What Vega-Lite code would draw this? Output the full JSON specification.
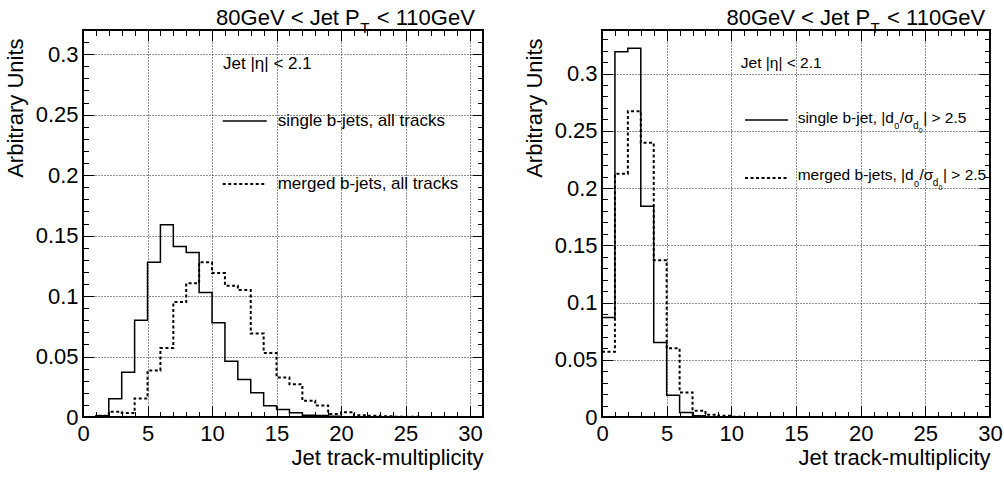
{
  "$schema": "https://vega.github.io/schema/vega-lite/v6.json",
  "padding": {"left": 3, "top": 5, "right": 5, "bottom": 5},
  "background": "white",
  "datasets": {
    "left": [
      {"s": "single", "x": 0, "y": 0}, {"s": "single", "x": 1, "y": 0.001}, {"s": "single", "x": 2, "y": 0.015},
      {"s": "single", "x": 3, "y": 0.037}, {"s": "single", "x": 4, "y": 0.080}, {"s": "single", "x": 5, "y": 0.128},
      {"s": "single", "x": 6, "y": 0.159}, {"s": "single", "x": 7, "y": 0.141}, {"s": "single", "x": 8, "y": 0.136},
      {"s": "single", "x": 9, "y": 0.103}, {"s": "single", "x": 10, "y": 0.078}, {"s": "single", "x": 11, "y": 0.046},
      {"s": "single", "x": 12, "y": 0.031}, {"s": "single", "x": 13, "y": 0.020}, {"s": "single", "x": 14, "y": 0.0093},
      {"s": "single", "x": 15, "y": 0.0063}, {"s": "single", "x": 16, "y": 0.0036}, {"s": "single", "x": 17, "y": 0.0014},
      {"s": "single", "x": 18, "y": 0.0012}, {"s": "single", "x": 19, "y": 0.0006}, {"s": "single", "x": 20, "y": 0.0003},
      {"s": "single", "x": 21, "y": 0.0002}, {"s": "single", "x": 22, "y": 0}, {"s": "single", "x": 30, "y": 0},
      {"s": "merged", "x": 0, "y": 0}, {"s": "merged", "x": 1, "y": 0.001}, {"s": "merged", "x": 2, "y": 0.0044},
      {"s": "merged", "x": 3, "y": 0.0033}, {"s": "merged", "x": 4, "y": 0.0154}, {"s": "merged", "x": 5, "y": 0.0385},
      {"s": "merged", "x": 6, "y": 0.057}, {"s": "merged", "x": 7, "y": 0.095}, {"s": "merged", "x": 8, "y": 0.1106},
      {"s": "merged", "x": 9, "y": 0.128}, {"s": "merged", "x": 10, "y": 0.119}, {"s": "merged", "x": 11, "y": 0.1086},
      {"s": "merged", "x": 12, "y": 0.105}, {"s": "merged", "x": 13, "y": 0.069}, {"s": "merged", "x": 14, "y": 0.053},
      {"s": "merged", "x": 15, "y": 0.0327}, {"s": "merged", "x": 16, "y": 0.027}, {"s": "merged", "x": 17, "y": 0.0135},
      {"s": "merged", "x": 18, "y": 0.0096}, {"s": "merged", "x": 19, "y": 0.0025}, {"s": "merged", "x": 20, "y": 0.004},
      {"s": "merged", "x": 21, "y": 0.0014}, {"s": "merged", "x": 22, "y": 0.001}, {"s": "merged", "x": 23, "y": 0.0007},
      {"s": "merged", "x": 24, "y": 0.0003}, {"s": "merged", "x": 25, "y": 0.0002}, {"s": "merged", "x": 26, "y": 0},
      {"s": "merged", "x": 30, "y": 0}
    ],
    "right": [
      {"s": "single", "x": 0, "y": 0.087}, {"s": "single", "x": 1, "y": 0.319}, {"s": "single", "x": 2, "y": 0.322},
      {"s": "single", "x": 3, "y": 0.184}, {"s": "single", "x": 4, "y": 0.065}, {"s": "single", "x": 5, "y": 0.019},
      {"s": "single", "x": 6, "y": 0.004}, {"s": "single", "x": 7, "y": 0.001}, {"s": "single", "x": 8, "y": 0.0003},
      {"s": "single", "x": 9, "y": 0}, {"s": "single", "x": 30, "y": 0},
      {"s": "merged", "x": 0, "y": 0.057}, {"s": "merged", "x": 1, "y": 0.2125}, {"s": "merged", "x": 2, "y": 0.267},
      {"s": "merged", "x": 3, "y": 0.2395}, {"s": "merged", "x": 4, "y": 0.137}, {"s": "merged", "x": 5, "y": 0.060},
      {"s": "merged", "x": 6, "y": 0.0215}, {"s": "merged", "x": 7, "y": 0.0055}, {"s": "merged", "x": 8, "y": 0.002},
      {"s": "merged", "x": 9, "y": 0.001}, {"s": "merged", "x": 10, "y": 0.0003}, {"s": "merged", "x": 11, "y": 0},
      {"s": "merged", "x": 30, "y": 0}
    ]
  },
  "spacing": 119,
  "bounds": "flush",
  "hconcat": [
    {
      "width": 400,
      "height": 387,
      "resolve": {"axis": {"x": "independent", "y": "independent"}},
      "layer": [
        {
          "data": {"name": "left"},
          "transform": [{"filter": "datum.s === 'single'"}],
          "mark": {"type": "line", "interpolate": "step-after", "color": "black", "strokeWidth": 1.5},
          "encoding": {
            "x": {"field": "x", "type": "quantitative", "scale": {"domain": [0, 31], "nice": false, "zero": false},
              "axis": {"orient": "bottom", "values": [0,1,2,3,4,5,6,7,8,9,10,11,12,13,14,15,16,17,18,19,20,21,22,23,24,25,26,27,28,29,30,31],
                "tickDash": {"condition": {"test": "datum.value % 5 === 0", "value": [12, 1]}, "value": [5.5, 30]},
                "labelExpr": "datum.value % 5 === 0 ? datum.label : ''", "labelPadding": 17,
                "grid": true, "gridOpacity": {"condition": {"test": "datum.value % 5 === 0", "value": 1}, "value": 0},
                "title": "Jet track-multiplicity", "titleAnchor": "end", "titleAlign": "right", "titleBaseline": "alphabetic", "titleY": 47}},
            "y": {"field": "y", "type": "quantitative", "scale": {"domain": [0, 0.32], "nice": false},
              "axis": {"orient": "left", "values": [0,0.01,0.02,0.03,0.04,0.05,0.06,0.07,0.08,0.09,0.1,0.11,0.12,0.13,0.14,0.15,0.16,0.17,0.18,0.19,0.2,0.21,0.22,0.23,0.24,0.25,0.26,0.27,0.28,0.29,0.3,0.31,0.32],
                "tickDash": {"condition": {"test": "round(datum.value*100) % 5 === 0", "value": [12, 1]}, "value": [5.5, 30]},
                "labelExpr": "round(datum.value*100) % 5 === 0 ? format(datum.value, '~g') : ''", "labelPadding": 16,
                "grid": true, "gridOpacity": {"condition": {"test": "round(datum.value*100) % 5 === 0", "value": 1}, "value": 0},
                "title": "Arbitrary Units", "titleAngle": 270, "titleAnchor": "end", "titleAlign": "right", "titleBaseline": "alphabetic", "titleX": -61, "titleY": 8}}
          }
        },
        {
          "data": {"name": "left"},
          "transform": [{"filter": "datum.s === 'merged'"}],
          "mark": {"type": "line", "interpolate": "step-after", "color": "black", "strokeWidth": 2, "strokeDash": [3, 2.5]},
          "encoding": {
            "x": {"field": "x", "type": "quantitative", "scale": {"domain": [0, 31], "nice": false, "zero": false},
              "axis": {"orient": "top", "values": [0,1,2,3,4,5,6,7,8,9,10,11,12,13,14,15,16,17,18,19,20,21,22,23,24,25,26,27,28,29,30,31],
                "tickDash": {"condition": {"test": "datum.value % 5 === 0", "value": [12, 1]}, "value": [5.5, 30]},
                "labels": false, "grid": false, "title": null}},
            "y": {"field": "y", "type": "quantitative", "scale": {"domain": [0, 0.32], "nice": false},
              "axis": {"orient": "right", "values": [0,0.01,0.02,0.03,0.04,0.05,0.06,0.07,0.08,0.09,0.1,0.11,0.12,0.13,0.14,0.15,0.16,0.17,0.18,0.19,0.2,0.21,0.22,0.23,0.24,0.25,0.26,0.27,0.28,0.29,0.3,0.31,0.32],
                "tickDash": {"condition": {"test": "round(datum.value*100) % 5 === 0", "value": [12, 1]}, "value": [5.5, 30]},
                "labels": false, "grid": false, "title": null}}
          }
        },
        {
          "data": {"values": [{}]},
          "mark": {"type": "rule", "color": "black", "strokeWidth": 1.5},
          "encoding": {"x": {"datum": 10.83, "type": "quantitative", "axis": null}, "x2": {"datum": 14.24}, "y": {"datum": 0.2448, "type": "quantitative", "axis": null}}
        },
        {
          "data": {"values": [{}]},
          "mark": {"type": "rule", "color": "black", "strokeWidth": 2, "strokeDash": [3, 2.5]},
          "encoding": {"x": {"datum": 10.83, "type": "quantitative", "axis": null}, "x2": {"datum": 14.24}, "y": {"datum": 0.1927, "type": "quantitative", "axis": null}}
        },
        {
          "data": {"values": [{}]},
          "mark": {"type": "text", "text": "Jet |η| < 2.1", "align": "left", "baseline": "middle", "fontSize": 17, "color": "black"},
          "encoding": {"x": {"datum": 10.85, "type": "quantitative", "axis": null}, "y": {"datum": 0.292, "type": "quantitative", "axis": null}}
        },
        {
          "data": {"values": [{}]},
          "mark": {"type": "text", "text": "single b-jets, all tracks", "align": "left", "baseline": "middle", "fontSize": 17, "color": "black"},
          "encoding": {"x": {"datum": 15.09, "type": "quantitative", "axis": null}, "y": {"datum": 0.2448, "type": "quantitative", "axis": null}}
        },
        {
          "data": {"values": [{}]},
          "mark": {"type": "text", "text": "merged b-jets, all tracks", "align": "left", "baseline": "middle", "fontSize": 17, "color": "black"},
          "encoding": {"x": {"datum": 15.09, "type": "quantitative", "axis": null}, "y": {"datum": 0.1927, "type": "quantitative", "axis": null}}
        },
        {
          "data": {"values": [{}]},
          "mark": {"type": "text", "text": "80GeV < Jet P", "align": "right", "baseline": "alphabetic", "fontSize": 22, "color": "black"},
          "encoding": {"x": {"datum": 21.45, "type": "quantitative", "axis": null}, "y": {"datum": 0.3242, "type": "quantitative", "axis": null}}
        },
        {
          "data": {"values": [{}]},
          "mark": {"type": "text", "text": "T", "align": "left", "baseline": "alphabetic", "fontSize": 15, "dx": 0.5, "dy": 8.3, "color": "black"},
          "encoding": {"x": {"datum": 21.45, "type": "quantitative", "axis": null}, "y": {"datum": 0.3242, "type": "quantitative", "axis": null}}
        },
        {
          "data": {"values": [{}]},
          "mark": {"type": "text", "text": "< 110GeV", "align": "left", "baseline": "alphabetic", "fontSize": 22, "dx": 17, "color": "black"},
          "encoding": {"x": {"datum": 21.45, "type": "quantitative", "axis": null}, "y": {"datum": 0.3242, "type": "quantitative", "axis": null}}
        }
      ]
    },
    {
      "width": 388,
      "height": 387,
      "resolve": {"axis": {"x": "independent", "y": "independent"}},
      "layer": [
        {
          "data": {"name": "right"},
          "transform": [{"filter": "datum.s === 'single'"}],
          "mark": {"type": "line", "interpolate": "step-after", "color": "black", "strokeWidth": 1.5},
          "encoding": {
            "x": {"field": "x", "type": "quantitative", "scale": {"domain": [0, 30], "nice": false, "zero": false},
              "axis": {"orient": "bottom", "values": [0,1,2,3,4,5,6,7,8,9,10,11,12,13,14,15,16,17,18,19,20,21,22,23,24,25,26,27,28,29,30],
                "tickDash": {"condition": {"test": "datum.value % 5 === 0", "value": [12, 1]}, "value": [5.5, 30]},
                "labelExpr": "datum.value % 5 === 0 ? datum.label : ''", "labelPadding": 17,
                "grid": true, "gridOpacity": {"condition": {"test": "datum.value % 5 === 0", "value": 1}, "value": 0},
                "title": "Jet track-multiplicity", "titleAnchor": "end", "titleAlign": "right", "titleBaseline": "alphabetic", "titleY": 47}},
            "y": {"field": "y", "type": "quantitative", "scale": {"domain": [0, 0.338], "nice": false},
              "axis": {"orient": "left", "values": [0,0.01,0.02,0.03,0.04,0.05,0.06,0.07,0.08,0.09,0.1,0.11,0.12,0.13,0.14,0.15,0.16,0.17,0.18,0.19,0.2,0.21,0.22,0.23,0.24,0.25,0.26,0.27,0.28,0.29,0.3,0.31,0.32,0.33],
                "tickDash": {"condition": {"test": "round(datum.value*100) % 5 === 0", "value": [12, 1]}, "value": [5.5, 30]},
                "labelExpr": "round(datum.value*100) % 5 === 0 ? format(datum.value, '~g') : ''", "labelPadding": 16,
                "grid": true, "gridOpacity": {"condition": {"test": "round(datum.value*100) % 5 === 0", "value": 1}, "value": 0},
                "title": "Arbitrary Units", "titleAngle": 270, "titleAnchor": "end", "titleAlign": "right", "titleBaseline": "alphabetic", "titleX": -61, "titleY": 8}}
          }
        },
        {
          "data": {"name": "right"},
          "transform": [{"filter": "datum.s === 'merged'"}],
          "mark": {"type": "line", "interpolate": "step-after", "color": "black", "strokeWidth": 2, "strokeDash": [3, 2.5]},
          "encoding": {
            "x": {"field": "x", "type": "quantitative", "scale": {"domain": [0, 30], "nice": false, "zero": false},
              "axis": {"orient": "top", "values": [0,1,2,3,4,5,6,7,8,9,10,11,12,13,14,15,16,17,18,19,20,21,22,23,24,25,26,27,28,29,30],
                "tickDash": {"condition": {"test": "datum.value % 5 === 0", "value": [12, 1]}, "value": [5.5, 30]},
                "labels": false, "grid": false, "title": null}},
            "y": {"field": "y", "type": "quantitative", "scale": {"domain": [0, 0.338], "nice": false},
              "axis": {"orient": "right", "values": [0,0.01,0.02,0.03,0.04,0.05,0.06,0.07,0.08,0.09,0.1,0.11,0.12,0.13,0.14,0.15,0.16,0.17,0.18,0.19,0.2,0.21,0.22,0.23,0.24,0.25,0.26,0.27,0.28,0.29,0.3,0.31,0.32,0.33],
                "tickDash": {"condition": {"test": "round(datum.value*100) % 5 === 0", "value": [12, 1]}, "value": [5.5, 30]},
                "labels": false, "grid": false, "title": null}}
          }
        },
        {
          "data": {"values": [{}]},
          "mark": {"type": "rule", "color": "black", "strokeWidth": 1.5},
          "encoding": {"x": {"datum": 11.06, "type": "quantitative", "axis": null}, "x2": {"datum": 14.39}, "y": {"datum": 0.2594, "type": "quantitative", "axis": null}}
        },
        {
          "data": {"values": [{}]},
          "mark": {"type": "rule", "color": "black", "strokeWidth": 2, "strokeDash": [3, 2.5]},
          "encoding": {"x": {"datum": 11.06, "type": "quantitative", "axis": null}, "x2": {"datum": 14.39}, "y": {"datum": 0.2087, "type": "quantitative", "axis": null}}
        },
        {
          "data": {"values": [{}]},
          "mark": {"type": "text", "text": "Jet |η| < 2.1", "align": "left", "baseline": "middle", "fontSize": 15.5, "color": "black"},
          "encoding": {"x": {"datum": 10.73, "type": "quantitative", "axis": null}, "y": {"datum": 0.3092, "type": "quantitative", "axis": null}}
        },
        {
          "data": {"values": [{}]},
          "mark": {"type": "text", "text": "single b-jet, |d", "align": "left", "baseline": "alphabetic", "fontSize": 15.5, "color": "black"},
          "encoding": {"x": {"datum": 15.13, "type": "quantitative", "axis": null}, "y": {"datum": 0.2572, "type": "quantitative", "axis": null}}
        },
        {
          "data": {"values": [{}]},
          "mark": {"type": "text", "text": "0", "align": "left", "baseline": "alphabetic", "fontSize": 9, "dx": 96.5, "dy": 6.5, "color": "black"},
          "encoding": {"x": {"datum": 15.13, "type": "quantitative", "axis": null}, "y": {"datum": 0.2572, "type": "quantitative", "axis": null}}
        },
        {
          "data": {"values": [{}]},
          "mark": {"type": "text", "text": "/σ", "align": "left", "baseline": "alphabetic", "fontSize": 15.5, "dx": 102, "color": "black"},
          "encoding": {"x": {"datum": 15.13, "type": "quantitative", "axis": null}, "y": {"datum": 0.2572, "type": "quantitative", "axis": null}}
        },
        {
          "data": {"values": [{}]},
          "mark": {"type": "text", "text": "d", "align": "left", "baseline": "alphabetic", "fontSize": 10, "dx": 115.3, "dy": 6, "color": "black"},
          "encoding": {"x": {"datum": 15.13, "type": "quantitative", "axis": null}, "y": {"datum": 0.2572, "type": "quantitative", "axis": null}}
        },
        {
          "data": {"values": [{}]},
          "mark": {"type": "text", "text": "0", "align": "left", "baseline": "alphabetic", "fontSize": 7, "dx": 121, "dy": 10, "color": "black"},
          "encoding": {"x": {"datum": 15.13, "type": "quantitative", "axis": null}, "y": {"datum": 0.2572, "type": "quantitative", "axis": null}}
        },
        {
          "data": {"values": [{}]},
          "mark": {"type": "text", "text": "| > 2.5", "align": "left", "baseline": "alphabetic", "fontSize": 15.5, "dx": 125.5, "color": "black"},
          "encoding": {"x": {"datum": 15.13, "type": "quantitative", "axis": null}, "y": {"datum": 0.2572, "type": "quantitative", "axis": null}}
        },
        {
          "data": {"values": [{}]},
          "mark": {"type": "text", "text": "merged b-jets, |d", "align": "left", "baseline": "alphabetic", "fontSize": 15.5, "color": "black"},
          "encoding": {"x": {"datum": 15.13, "type": "quantitative", "axis": null}, "y": {"datum": 0.2066, "type": "quantitative", "axis": null}}
        },
        {
          "data": {"values": [{}]},
          "mark": {"type": "text", "text": "0", "align": "left", "baseline": "alphabetic", "fontSize": 9, "dx": 116.3, "dy": 6.5, "color": "black"},
          "encoding": {"x": {"datum": 15.13, "type": "quantitative", "axis": null}, "y": {"datum": 0.2066, "type": "quantitative", "axis": null}}
        },
        {
          "data": {"values": [{}]},
          "mark": {"type": "text", "text": "/σ", "align": "left", "baseline": "alphabetic", "fontSize": 15.5, "dx": 121.8, "color": "black"},
          "encoding": {"x": {"datum": 15.13, "type": "quantitative", "axis": null}, "y": {"datum": 0.2066, "type": "quantitative", "axis": null}}
        },
        {
          "data": {"values": [{}]},
          "mark": {"type": "text", "text": "d", "align": "left", "baseline": "alphabetic", "fontSize": 10, "dx": 135.1, "dy": 6, "color": "black"},
          "encoding": {"x": {"datum": 15.13, "type": "quantitative", "axis": null}, "y": {"datum": 0.2066, "type": "quantitative", "axis": null}}
        },
        {
          "data": {"values": [{}]},
          "mark": {"type": "text", "text": "0", "align": "left", "baseline": "alphabetic", "fontSize": 7, "dx": 140.8, "dy": 10, "color": "black"},
          "encoding": {"x": {"datum": 15.13, "type": "quantitative", "axis": null}, "y": {"datum": 0.2066, "type": "quantitative", "axis": null}}
        },
        {
          "data": {"values": [{}]},
          "mark": {"type": "text", "text": "| > 2.5", "align": "left", "baseline": "alphabetic", "fontSize": 15.5, "dx": 145.3, "color": "black"},
          "encoding": {"x": {"datum": 15.13, "type": "quantitative", "axis": null}, "y": {"datum": 0.2066, "type": "quantitative", "axis": null}}
        },
        {
          "data": {"values": [{}]},
          "mark": {"type": "text", "text": "80GeV < Jet P", "align": "right", "baseline": "alphabetic", "fontSize": 22, "color": "black"},
          "encoding": {"x": {"datum": 20.73, "type": "quantitative", "axis": null}, "y": {"datum": 0.3424, "type": "quantitative", "axis": null}}
        },
        {
          "data": {"values": [{}]},
          "mark": {"type": "text", "text": "T", "align": "left", "baseline": "alphabetic", "fontSize": 15, "dx": 0.5, "dy": 8.3, "color": "black"},
          "encoding": {"x": {"datum": 20.73, "type": "quantitative", "axis": null}, "y": {"datum": 0.3424, "type": "quantitative", "axis": null}}
        },
        {
          "data": {"values": [{}]},
          "mark": {"type": "text", "text": "< 110GeV", "align": "left", "baseline": "alphabetic", "fontSize": 22, "dx": 17, "color": "black"},
          "encoding": {"x": {"datum": 20.73, "type": "quantitative", "axis": null}, "y": {"datum": 0.3424, "type": "quantitative", "axis": null}}
        }
      ]
    }
  ],
  "config": {
    "font": "Liberation Sans",
    "view": {"stroke": "black", "strokeWidth": 2},
    "axis": {
      "domain": false,
      "ticks": true,
      "tickSize": -11,
      "tickColor": "black",
      "tickWidth": 1,
      "labelColor": "black",
      "labelFontSize": 22,
      "labelFlush": false,
      "labelOverlap": false,
      "titleColor": "black",
      "titleFontSize": 22,
      "titleFontWeight": "normal",
      "gridColor": "#222222",
      "gridDash": [1, 2],
      "gridWidth": 1
    }
  }
}
